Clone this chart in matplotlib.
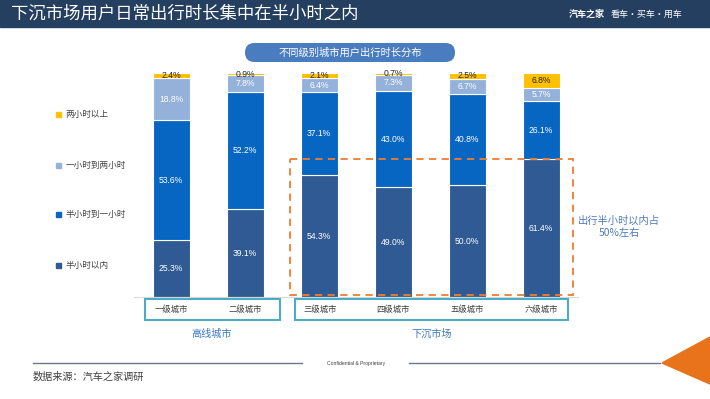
import matplotlib
matplotlib.use("Agg")
import matplotlib.pyplot as plt
from matplotlib.patches import Rectangle, FancyBboxPatch, Polygon
import numpy as np

plt.rcParams['font.family'] = ['Noto Sans CJK SC', 'DejaVu Sans']

# ---- data ----
categories = ["一级城市", "二级城市", "三级城市", "四级城市", "五级城市", "六级城市"]
series_names = ["半小时以内", "半小时到一小时", "一小时到两小时", "两小时以上"]
s_half = [25.3, 39.1, 54.3, 49.0, 50.0, 61.4]
s_half_one = [53.6, 52.2, 37.1, 43.0, 40.8, 26.1]
s_one_two = [18.8, 7.8, 6.4, 7.3, 6.7, 5.7]
s_two_plus = [2.4, 0.9, 2.1, 0.7, 2.5, 6.8]
groups = ["高线城市", "下沉市场"]
title = "下沉市场用户日常出行时长集中在半小时之内"
subtitle = "不同级别城市用户出行时长分布"
note = "出行半小时以内占\n50%左右"
source = "数据来源：汽车之家调研"

colors = ["#305A93", "#0866C3", "#93B1D9", "#FFC000"]
label_colors = ["white", "white", "white", "#262626"]

W, H = 710, 399
fig = plt.figure(figsize=(W / 100, H / 100), dpi=100)

# overlay axes in pixel coordinates
ov = fig.add_axes([0, 0, 1, 1])
ov.set_xlim(0, W)
ov.set_ylim(H, 0)
ov.axis("off")
ov.set_zorder(0)

# header
ov.add_patch(Rectangle((0, 0), W, 27, color="#243F60", zorder=1))
ov.text(11, 14, title, color="white", fontsize=12.5, va="center", ha="left", zorder=2)
ov.text(569, 14, "汽车之家", color="white", fontsize=6.5, fontweight="bold", va="center", ha="left", zorder=2)
ov.text(611, 14, "看车·买车·用车", color="white", fontsize=6.5, va="center", ha="left", zorder=2)

# subtitle pill
ov.add_patch(FancyBboxPatch((245, 43), 210, 19, boxstyle="round,pad=0,rounding_size=9.5",
                            fc="#4A7DBF", ec="none", zorder=1))
ov.text(350, 52.5, subtitle, color="white", fontsize=7.4, ha="center", va="center", zorder=2)

# bars axes
ax = fig.add_axes([134 / W, 1 - 297 / H, 444 / W, 224 / H])
ax.set_zorder(1)
ax.patch.set_alpha(0)
x = np.arange(len(categories))
series = [s_half, s_half_one, s_one_two, s_two_plus]
bottom = np.zeros(len(categories))
for vals, c, lc in zip(series, colors, label_colors):
    vals = np.array(vals)
    ax.bar(x, vals, bottom=bottom, width=0.5, color=c, edgecolor="white", linewidth=0.8)
    for xi, b, v in zip(x, bottom, vals):
        ax.text(xi, b + v / 2, f"{v:.1f}%", ha="center", va="center", color=lc,
                fontsize=6.2, family=["Liberation Sans", "DejaVu Sans"], clip_on=False)
    bottom = bottom + vals
ax.set_xlim(-0.5, 5.5)
ax.set_ylim(0, 100)
for s in ["top", "right", "left"]:
    ax.spines[s].set_visible(False)
ax.spines["bottom"].set_color("#D9D9D9")
ax.set_xticks([])
ax.set_yticks([])

# overlay on top for boxes & annotations
ov2 = fig.add_axes([0, 0, 1, 1])
ov2.set_xlim(0, W)
ov2.set_ylim(H, 0)
ov2.axis("off")
ov2.set_zorder(2)
ov2.patch.set_alpha(0)

# orange dashed region
ov2.add_patch(Rectangle((290, 159), 283, 136, fill=False, ec="#ED7D31", lw=1.3,
                        linestyle=(0, (4, 3))))
ov2.text(619, 227, note, color="#4F79BD", fontsize=7.4, ha="center", va="center",
         linespacing=1.3)

# category boxes
ov2.add_patch(Rectangle((145, 299), 135, 21, fill=False, ec="#4BACC6", lw=1.5))
ov2.add_patch(Rectangle((295, 299), 273, 21, fill=False, ec="#4BACC6", lw=1.5))
centers = [171, 245, 320, 393, 467, 541]
for cx, cat in zip(centers, categories):
    ov2.text(cx, 309.5, cat, color="#404040", fontsize=6, ha="center", va="center")
ov2.text(212, 334, groups[0], color="#3A78C0", fontsize=7.3, ha="center", va="center")
ov2.text(432, 334, groups[1], color="#3A78C0", fontsize=7.3, ha="center", va="center")

# legend
leg_y = [265, 214, 165, 114]
for yy, name, c in zip(leg_y, series_names, colors):
    ov2.add_patch(Rectangle((55.5, yy - 2.5), 5, 5, color=c))
    ov2.text(66, yy, name, color="#404040", fontsize=6.2, ha="left", va="center")

# footer
ov2.plot([33, 302], [363, 363], color="#6B7785", lw=1)
ov2.plot([409, 660], [363, 363], color="#6B7785", lw=1)
ov2.text(356, 363, "Confidential & Proprietary", color="#404040", fontsize=3.6,
         ha="center", va="center", family=["Liberation Sans", "DejaVu Sans"])
ov2.text(33, 377, source, color="#404040", fontsize=7.3, ha="left", va="center")
ov2.add_patch(Polygon([[662, 363], [710, 337], [710, 384]], closed=True, color="#E8731A"))

fig.savefig("out.png", dpi=100)
